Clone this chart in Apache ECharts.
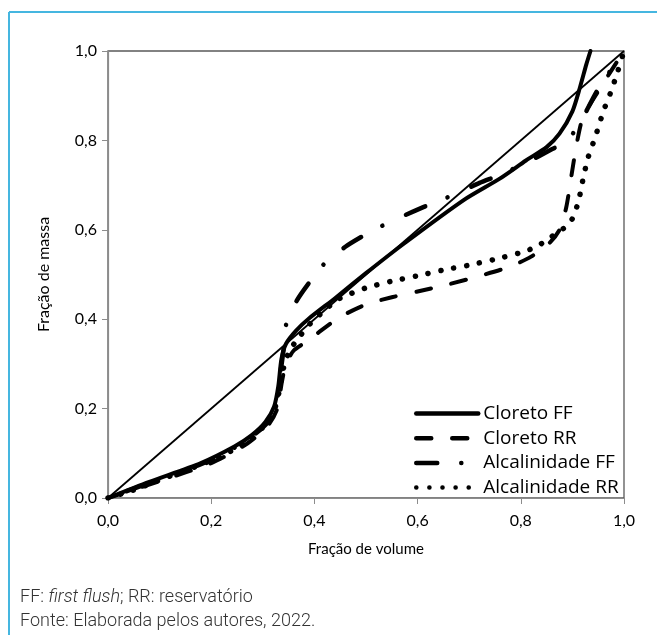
<!DOCTYPE html>
<html>
<head>
<meta charset="utf-8">
<script src="https://cdn.jsdelivr.net/npm/echarts@6/dist/echarts.min.js"></script>
<style>
  html, body { margin: 0; padding: 0; background: #fff; }
  #chart { width: 657px; height: 635px; }
</style>
</head>
<body>
<div id="chart"></div>
<script>
// Equal-distribution reference line
const diagonal = [[0, 0], [1, 1]];

// Mass fraction vs. volume fraction, [volume, mass]
const cloretoFF = [[0,0],[0.08,0.036],[0.18,0.078],[0.245,0.115],[0.278,0.14],[0.305,0.17],[0.322,0.205],[0.33,0.25],[0.336,0.31],[0.345,0.345],[0.365,0.375],[0.39,0.402],[0.44,0.447],[0.5,0.503],[0.57,0.566],[0.69,0.667],[0.76,0.715],[0.81,0.755],[0.85,0.785],[0.875,0.815],[0.9,0.865],[0.915,0.92],[0.927,0.97],[0.935,1.0]];

const cloretoRR = [[0,0],[0.1,0.038],[0.2,0.078],[0.27,0.122],[0.31,0.162],[0.328,0.2],[0.337,0.26],[0.345,0.3],[0.36,0.33],[0.385,0.35],[0.41,0.372],[0.45,0.405],[0.5,0.433],[0.55,0.449],[0.6,0.462],[0.66,0.478],[0.73,0.5],[0.78,0.518],[0.82,0.54],[0.855,0.57],[0.875,0.6],[0.888,0.65],[0.898,0.72],[0.908,0.79],[0.92,0.85],[0.95,0.91],[1,1]];

const alcalinidadeFF = [[0,0],[0.1,0.042],[0.2,0.085],[0.27,0.13],[0.31,0.17],[0.326,0.21],[0.333,0.27],[0.34,0.33],[0.345,0.387],[0.365,0.44],[0.39,0.482],[0.42,0.525],[0.46,0.562],[0.5,0.59],[0.54,0.614],[0.59,0.64],[0.63,0.66],[0.68,0.683],[0.72,0.705],[0.76,0.723],[0.81,0.75],[0.86,0.78],[0.89,0.8],[0.915,0.84],[0.95,0.915],[1,1]];

const alcalinidadeRR = [[0,0],[0.05,0.018],[0.095,0.038],[0.146,0.06],[0.198,0.083],[0.243,0.108],[0.27,0.128],[0.29,0.148],[0.31,0.168],[0.322,0.195],[0.332,0.24],[0.34,0.29],[0.352,0.33],[0.372,0.362],[0.39,0.388],[0.415,0.415],[0.445,0.444],[0.472,0.458],[0.5,0.47],[0.55,0.485],[0.6,0.497],[0.65,0.51],[0.7,0.521],[0.75,0.534],[0.8,0.549],[0.83,0.562],[0.86,0.585],[0.885,0.605],[0.9,0.625],[0.912,0.665],[0.92,0.71],[0.93,0.76],[0.945,0.81],[0.96,0.865],[0.975,0.91],[0.988,0.955],[1,1]];

const seriesNames = ['Cloreto FF', 'Cloreto RR', 'Alcalinidade FF', 'Alcalinidade RR'];

const FONT = 'Lato, "Open Sans", sans-serif';
const LEGEND_FONT = '"Open Sans", Lato, sans-serif';
const NOTE_FONT = 'Roboto, sans-serif';
const fmt = v => v.toFixed(1).replace('.', ',');
const axisGray = '#8c8c8c';

const chart = echarts.init(document.getElementById('chart'), null, { renderer: 'canvas' });

function curve(name, data, width, dash, z, offset) {
  return {
    name: name,
    type: 'line',
    data: data,
    smooth: 0.25,
    symbol: 'none',
    color: '#000',
    z: z,
    lineStyle: { color: '#000', width: width, type: dash, dashOffset: offset || 0, cap: 'round', join: 'round' }
  };
}

chart.setOption({
  animation: false,
  backgroundColor: '#fff',
  grid: {
    left: 108, top: 51, width: 516, height: 447,
    show: true, borderColor: '#595959', borderWidth: 1.3, backgroundColor: 'transparent'
  },
  xAxis: {
    type: 'value', min: 0, max: 1, interval: 0.2,
    name: 'Fração de volume', nameLocation: 'middle', nameGap: 44,
    nameTextStyle: { color: '#000', fontSize: 15, fontFamily: FONT },
    axisLine: { show: true, onZero: false, lineStyle: { color: axisGray, width: 1.2 } },
    axisTick: { show: true, inside: false, length: 6, lineStyle: { color: axisGray } },
    axisLabel: { formatter: fmt, margin: 15, color: '#000', fontSize: 16, fontFamily: FONT },
    splitLine: { show: false }
  },
  yAxis: {
    type: 'value', min: 0, max: 1, interval: 0.2,
    name: 'Fração de massa', nameLocation: 'middle', nameGap: 56, nameRotate: 90,
    nameTextStyle: { color: '#000', fontSize: 16, fontFamily: FONT },
    axisLine: { show: true, onZero: false, lineStyle: { color: axisGray, width: 1.2 } },
    axisTick: { show: true, inside: false, length: 6, lineStyle: { color: axisGray } },
    axisLabel: { formatter: fmt, margin: 11, color: '#000', fontSize: 16, fontFamily: FONT },
    splitLine: { show: false }
  },
  legend: {
    data: seriesNames,
    orient: 'vertical',
    left: 414, top: 404,
    padding: 0,
    itemWidth: 62, itemHeight: 14, itemGap: 5.7,
    itemStyle: { opacity: 0 },
    textStyle: { color: '#000', fontSize: 19, lineHeight: 19, fontFamily: LEGEND_FONT },
    lineStyle: { width: 4.5, dashOffset: 0 }
  },
  graphic: [
    { type: 'line', shape: { x1: 9, y1: 12, x2: 657, y2: 12 }, style: { stroke: '#45b6e0', lineWidth: 2 } },
    { type: 'line', shape: { x1: 9, y1: 12, x2: 9, y2: 635 }, style: { stroke: '#45b6e0', lineWidth: 2 } },
    {
      type: 'text', left: 20, top: 588,
      style: {
        text: '{n|FF: }{i|first flush}{n|; RR: reservatório}',
        rich: {
          n: { fontSize: 18, fontFamily: NOTE_FONT, fontWeight: 300, fill: '#333' },
          i: { fontSize: 18, fontFamily: NOTE_FONT, fontWeight: 300, fontStyle: 'italic', fill: '#333' }
        }
      }
    },
    {
      type: 'text', left: 20, top: 612,
      style: { text: 'Fonte: Elaborada pelos autores, 2022.', fontSize: 18, fontFamily: NOTE_FONT, fontWeight: 300, fill: '#333' }
    }
  ],
  series: [
    { type: 'line', data: diagonal, symbol: 'none', z: 1, silent: true,
      lineStyle: { color: '#000', width: 1.8 } },
    curve('Alcalinidade RR', alcalinidadeRR, 5.5, [0.1, 13], 2),
    curve('Cloreto RR', cloretoRR, 4, [15, 21], 3),
    curve('Alcalinidade FF', alcalinidadeFF, 4.5, [21, 24, 0.1, 26], 4, 51),
    curve('Cloreto FF', cloretoFF, 4, 'solid', 5)
  ]
});
</script>
</body>
</html>
